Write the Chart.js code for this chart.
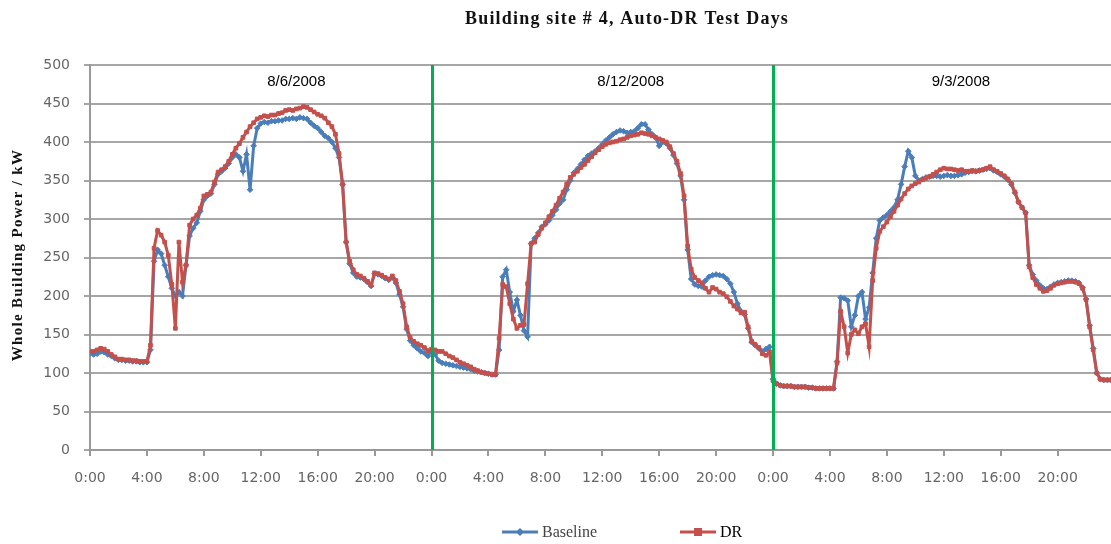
<!DOCTYPE html>
<html>
<head>
<meta charset="utf-8">
<script src="https://cdn.jsdelivr.net/npm/chart.js@4.4.1/dist/chart.umd.min.js"></script>
<style>
  html, body { margin: 0; padding: 0; background: #fff; overflow: hidden; }
  canvas { display: block; }
</style>
</head>
<body>
<canvas id="chart" width="1111" height="544"></canvas>
<script>
// test days
var days = ['8/6/2008', '8/12/2008', '9/3/2008'];

// 15 minute readings, kW (4 values per hour)
var base1 = [
    126, 124, 125, 128, 127, 124, 122, 119, 117, 117, 116, 116,
    115, 115, 114, 114, 114, 130, 245, 260, 255, 240, 225, 210,
    200, 205, 200, 240, 278, 288, 295, 310, 325, 330, 333, 345,
    358, 362, 366, 372, 380, 384, 380, 362, 384, 338, 395, 418,
    424, 426, 425, 427, 427, 428, 428, 430, 430, 431, 430, 432,
    431, 430, 425, 421, 418, 413, 408, 405, 400, 392, 380, 345,
    270, 242, 230, 225, 224, 222, 218, 213, 229, 228, 226, 223,
    221, 224, 217, 202, 186, 157, 142, 136, 132, 128, 126, 122
];
var dr1 = [
    128, 128, 130, 132, 131, 128, 124, 121, 118, 118, 117, 117,
    116, 116, 115, 115, 115, 136, 262, 285, 279, 270, 253, 215,
    158, 270, 218, 240, 292, 300, 305, 314, 330, 332, 335, 348,
    361, 364, 368, 375, 384, 392, 398, 406, 413, 420, 425, 430,
    432, 434, 433, 435, 435, 437, 438, 441, 442, 441, 443, 444,
    446, 445, 442, 439, 436, 434, 431, 425, 420, 410, 385, 345,
    270, 245, 234, 228, 226, 223, 219, 214, 230, 229, 227, 224,
    222, 226, 220, 206, 190, 160, 146, 141, 138, 136, 133, 129
];
var base2 = [
    129, 124, 116, 113, 112, 111, 110, 109, 108, 107, 106, 105,
    103, 102, 101, 100, 99, 98, 98, 130, 225, 234, 205, 180,
    195, 175, 155, 147, 268, 275, 282, 290, 293, 298, 305, 312,
    320, 325, 338, 350, 360, 365, 371, 377, 382, 385, 388, 392,
    397, 402, 406, 410, 413, 415, 414, 412, 413, 414, 418, 423,
    423, 416, 410, 406, 395, 400, 398, 392, 383, 372, 356, 325,
    260, 222, 215, 213, 212, 220, 225, 227, 228, 227, 226, 222,
    216, 205, 190, 180, 176, 158, 140, 136, 132, 128, 131, 134
];
var dr2 = [
    131, 130, 128, 128, 125, 122, 120, 117, 114, 112, 110, 108,
    105, 103, 101, 100, 99, 98, 98, 145, 215, 212, 190, 170,
    158, 162, 163, 216, 268, 270, 280, 288, 295, 303, 310, 318,
    327, 335, 345, 354, 358, 362, 367, 371, 376, 381, 386, 390,
    394, 397, 399, 400, 401, 403, 404, 406, 408, 409, 410, 412,
    411, 410, 408, 406, 404, 402, 400, 394, 385, 375, 359, 330,
    265, 235, 224, 220, 217, 210, 205, 211, 209, 205, 203, 199,
    193, 187, 183, 178, 179, 160, 141, 137, 133, 125, 123, 127
];
var base3 = [
    92, 86, 84, 83, 83, 83, 82, 82, 82, 82, 81, 81,
    80, 80, 80, 80, 80, 80, 115, 198, 197, 194, 160, 175,
    200, 205, 170, 185, 230, 275, 298, 302, 305, 310, 315, 325,
    345, 368, 388, 380, 356, 350, 352, 354, 355, 356, 356, 355,
    356, 357, 356, 356, 357, 358, 360, 361, 362, 362, 363, 364,
    365, 366, 363, 361, 358, 355, 351, 345, 334, 322, 315, 308,
    240, 228, 220, 214, 210, 209, 212, 215, 217, 218, 219, 220,
    220, 219, 217, 211, 196, 162, 132, 100, 92, 91, 91, 91
];
var dr3 = [
    90, 86, 84, 83, 83, 83, 82, 82, 82, 82, 81, 81,
    80, 80, 80, 80, 80, 80, 113, 180, 160, 126, 150, 156,
    151, 160, 164, 134, 220, 262, 284, 290, 296, 303, 310, 318,
    326, 333, 339, 343, 346, 348, 351, 353, 355, 358, 361, 364,
    366, 365, 365, 364, 363, 364, 362, 362, 363, 362, 363, 364,
    366, 368, 364, 362, 359, 356, 352, 346, 335, 322, 315, 308,
    238, 224, 215, 210, 206, 207, 210, 214, 216, 217, 218, 219,
    219, 218, 216, 210, 195, 160, 130, 100, 92, 91, 91, 91
];

var yTicks = [0, 50, 100, 150, 200, 250, 300, 350, 400, 450, 500];
// x ticks every 4 hours over the three days
var xTicks = [0, 4, 8, 12, 16, 20, 24, 28, 32, 36, 40, 44, 48, 52, 56, 60, 64, 68];

function toPoints(values) {
    return values.map(function (v, i) { return { x: i * 0.25, y: v }; });
}

// extra drawing: title, axis title, day separators, date labels, legend
var extras = {
    id: 'extras',
    afterDatasetsDraw: function (chart) {
        var ctx = chart.ctx;
        var xs = chart.scales.x;
        var area = chart.chartArea;
        ctx.save();
        // day separators
        ctx.strokeStyle = '#00b050';
        ctx.lineWidth = 3;
        [24, 48].forEach(function (h) {
            var px = Math.round(xs.getPixelForValue(h)) + 0.5;
            ctx.beginPath();
            ctx.moveTo(px, area.top);
            ctx.lineTo(px, area.bottom);
            ctx.stroke();
        });
        // date labels
        ctx.fillStyle = '#000';
        ctx.font = '15px "Liberation Sans"';
        ctx.textAlign = 'center';
        ctx.textBaseline = 'middle';
        var at = [14.5, 38, 61.2];
        days.forEach(function (d, i) {
            ctx.fillText(d, xs.getPixelForValue(at[i]), 82);
        });
        ctx.restore();
    },
    afterDraw: function (chart) {
        var ctx = chart.ctx;
        ctx.save();
        ctx.fillStyle = '#111';
        ctx.textAlign = 'center';
        ctx.textBaseline = 'middle';
        ctx.font = 'bold 18px "Liberation Serif"';
        ctx.letterSpacing = '1.2px';
        ctx.fillText('Building site # 4, Auto-DR Test Days', 627, 19);
        ctx.font = 'bold 15px "Liberation Serif"';
        ctx.letterSpacing = '1.3px';
        ctx.translate(18, 255);
        ctx.rotate(-Math.PI / 2);
        ctx.fillText('Whole Building Power / kW', 0, 0);
        ctx.restore();

        // legend
        ctx.save();
        ctx.letterSpacing = '0px';
        var spots = [502, 680];
        var y = 532;
        chart.data.datasets.slice().sort(function (a, b) { return a.legendIndex - b.legendIndex; }).forEach(function (ds, i) {
            var x0 = spots[i];
            ctx.strokeStyle = ds.borderColor;
            ctx.lineWidth = 3;
            ctx.beginPath();
            ctx.moveTo(x0, y);
            ctx.lineTo(x0 + 36, y);
            ctx.stroke();
            ctx.fillStyle = ds.borderColor;
            if (ds.pointStyle === 'rect') {
                ctx.fillRect(x0 + 14, y - 4, 8, 8);
            } else {
                ctx.beginPath();
                ctx.moveTo(x0 + 18, y - 4);
                ctx.lineTo(x0 + 22, y);
                ctx.lineTo(x0 + 18, y + 4);
                ctx.lineTo(x0 + 14, y);
                ctx.closePath();
                ctx.fill();
            }
            ctx.fillStyle = i === 0 ? '#444' : '#000';
            ctx.font = '16px "Liberation Serif"';
            ctx.textAlign = 'left';
            ctx.textBaseline = 'middle';
            ctx.fillText(ds.label, x0 + 40, y + 1);
        });
        ctx.restore();
    }
};

var chrt = document.getElementById('chart');
var chart = new Chart(chrt, {
    type: 'line',
    data: {
        datasets: [
            {
                label: 'DR',
                legendIndex: 1,
                data: toPoints(dr1.concat(dr2, dr3)),
                borderColor: '#c4504c',
                backgroundColor: '#c4504c',
                borderWidth: 3,
                pointStyle: 'rect',
                pointRadius: 2.6,
                pointBorderWidth: 1,
                order: 0
            },
            {
                label: 'Baseline',
                legendIndex: 0,
                data: toPoints(base1.concat(base2, base3)),
                borderColor: '#4a7ebb',
                backgroundColor: '#4a7ebb',
                borderWidth: 3,
                pointStyle: 'rectRot',
                pointRadius: 2.8,
                pointBorderWidth: 1,
                order: 1
            }
        ]
    },
    options: {
        responsive: false,
        animation: false,
        layout: { autoPadding: false, padding: { top: 65, left: 0, right: 0, bottom: 50 } },
        plugins: {
            legend: { display: false },
            title: { display: false },
            tooltip: { enabled: false }
        },
        scales: {
            x: {
                type: 'linear',
                min: 0,
                max: 71.75,
                afterFit: function (scale) {
                    scale.height = 44;
                    scale.paddingLeft = 0;
                    scale.paddingRight = 0;
                },
                afterBuildTicks: function (scale) {
                    scale.ticks = xTicks.map(function (v) { return { value: v }; });
                },
                ticks: {
                    autoSkip: false,
                    maxRotation: 0,
                    padding: 14,
                    color: '#666',
                    font: { family: 'DejaVu Sans', size: 14 },
                    callback: function (v) { return (v % 24) + ':00'; }
                },
                grid: { drawOnChartArea: false, drawTicks: true, tickLength: 6, color: '#999', lineWidth: 2 },
                border: { color: '#999', width: 2 }
            },
            y: {
                min: 0,
                max: 500,
                afterFit: function (scale) { scale.width = 90; },
                afterBuildTicks: function (scale) {
                    scale.ticks = yTicks.map(function (v) { return { value: v }; });
                },
                ticks: {
                    padding: 14,
                    color: '#666',
                    font: { family: 'DejaVu Sans', size: 14 }
                },
                grid: { color: '#a6a6a6', lineWidth: 2, tickLength: 6 },
                border: { color: '#999', width: 2 }
            }
        }
    },
    plugins: [extras]
});
</script>
</body>
</html>
